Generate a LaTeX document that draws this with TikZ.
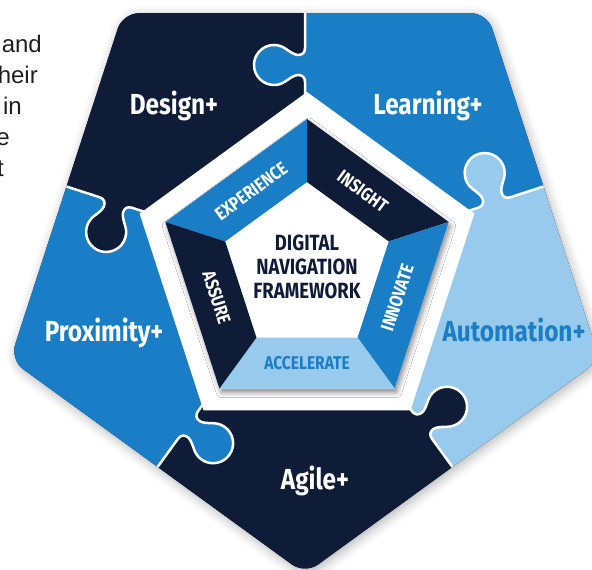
\documentclass[tikz,border=0pt]{standalone}
\usepackage{fontspec}
\setmainfont{Liberation Sans}
\newfontfamily\condb{Fira Sans}[FakeStretch=0.84]
\usetikzlibrary{shadows.blur}
\definecolor{navy}{RGB}{14,28,55}
\definecolor{midb}{RGB}{26,126,198}
\definecolor{lightb}{RGB}{152,202,237}
\tikzset{
  frag/.style={anchor=base east, inner sep=0pt, text=black!88, font=\fontsize{24}{28}\selectfont},
  piecelabel/.style={anchor=base, inner sep=0pt, text=white, font=\condb\bfseries\fontsize{29}{32}\selectfont},
  bandtxt/.style={inner sep=0pt, text=white, font=\condb\bfseries\fontsize{18.5}{20}\selectfont},
  centertxt/.style={align=center, inner sep=0pt, text=navy, font=\condb\bfseries\fontsize{22}{24}\selectfont},
  gap/.style={white, line width=2.5pt, line join=round},
}
\begin{document}
\begin{tikzpicture}[x=1pt,y=1pt]
\useasboundingbox (0,0) rectangle (592,570);
% text fragments at the left
\node[frag] (f1) at (42,517) {and};
\node[frag] (f2) at (38,486) {heir};
\node[frag] (f3) at (22,455) {in};
\node[frag] (f4) at (10,424) {e};
\node[frag] (f5) at (4,393) {t};
% outer puzzle
\begin{scope}[shift={(305,306)}]
  \fill[navy, rounded corners=16pt, blur shadow={shadow xshift=2pt, shadow yshift=-3pt, shadow blur radius=10pt, shadow opacity=30}]
    (126:310) -- (54:310) -- (-18:310) -- (-90:310) -- (198:310) -- cycle;
  \begin{scope}
    \clip[rounded corners=16pt] (126:310) -- (54:310) -- (-18:310) -- (-90:310) -- (198:310) -- cycle;
    \fill[navy]   (0,0) -- (90:420) -- (126:420) -- (162:420) -- cycle;   % Design
    \fill[midb]   (0,0) -- (18:420) -- (54:420) -- (90:420) -- cycle;     % Learning
    \fill[lightb] (0,0) -- (-54:420) -- (-18:420) -- (18:420) -- cycle;   % Automation
    \fill[navy]   (0,0) -- (-126:420) -- (-90:420) -- (-54:420) -- cycle; % Agile
    \fill[midb]   (0,0) -- (162:420) -- (198:420) -- (234:420) -- cycle;  % Proximity
    \foreach \ang/\col in {90/midb, 18/lightb, -54/navy, -126/midb, 162/navy} {
      \begin{scope}[rotate=\ang]
        \fill[\col] (182,0) .. controls (187,0) and (189,3) .. (189,7)
          .. controls (189,10.5) and (185.5,15.4) .. (182.62,19.53)
          arc[start angle=215, end angle=-35, radius=20]
          .. controls (212.5,15.4) and (209,10.5) .. (209,7)
          .. controls (209,3) and (211,0) .. (216,0) -- (216,-4) -- (182,-4) -- cycle;
        \draw[gap] (0,0) -- (182,0) .. controls (187,0) and (189,3) .. (189,7)
          .. controls (189,10.5) and (185.5,15.4) .. (182.62,19.53)
          arc[start angle=215, end angle=-35, radius=20]
          .. controls (212.5,15.4) and (209,10.5) .. (209,7)
          .. controls (209,3) and (211,0) .. (216,0) -- (330,0);
      \end{scope}
    }
  \end{scope}
\end{scope}
% inner frame and band
\begin{scope}[shift={(307,302)}]
  \fill[white] (90:176) -- (162:176) -- (234:176) -- (306:176) -- (18:176) -- cycle;
  \fill[white, blur shadow={shadow xshift=2pt, shadow yshift=-4pt, shadow blur radius=5pt, shadow opacity=45}]
    (90:149) -- (162:149) -- (234:149) -- (306:149) -- (18:149) -- cycle;
  \fill[midb]   (90:149) -- (162:149) -- (162:86) -- (90:86) -- cycle;
  \fill[navy]   (18:149) -- (90:149) -- (90:86) -- (18:86) -- cycle;
  \fill[midb]   (-54:149) -- (18:149) -- (18:86) -- (-54:86) -- cycle;
  \fill[lightb] (-126:149) -- (-54:149) -- (-54:86) -- (-126:86) -- cycle;
  \fill[navy]   (162:149) -- (234:149) -- (234:86) -- (162:86) -- cycle;
  \node[bandtxt, rotate=36] (exp) at (126:95) {EXPERIENCE};
  \node[bandtxt, rotate=-36] (ins) at (54:95) {INSIGHT};
  \node[bandtxt, rotate=72] (inn) at (-18:95) {INNOVATE};
  \node[bandtxt, text=midb] (acc) at (-90:95) {ACCELERATE};
  \node[bandtxt, rotate=-72] (ass) at (198:95) {ASSURE};
  \node[centertxt] (dnf) at (0,1) {DIGITAL\\NAVIGATION\\FRAMEWORK};
\end{scope}
% piece labels
\node[piecelabel] (design) at (174,455) {Design+};
\node[piecelabel] (learning) at (428,455) {Learning+};
\node[piecelabel, text=midb] (automation) at (514,228) {Automation+};
\node[piecelabel] (proximity) at (104,228) {Proximity+};
\node[piecelabel] (agile) at (315,80) {Agile+};
\end{tikzpicture}
\end{document}
